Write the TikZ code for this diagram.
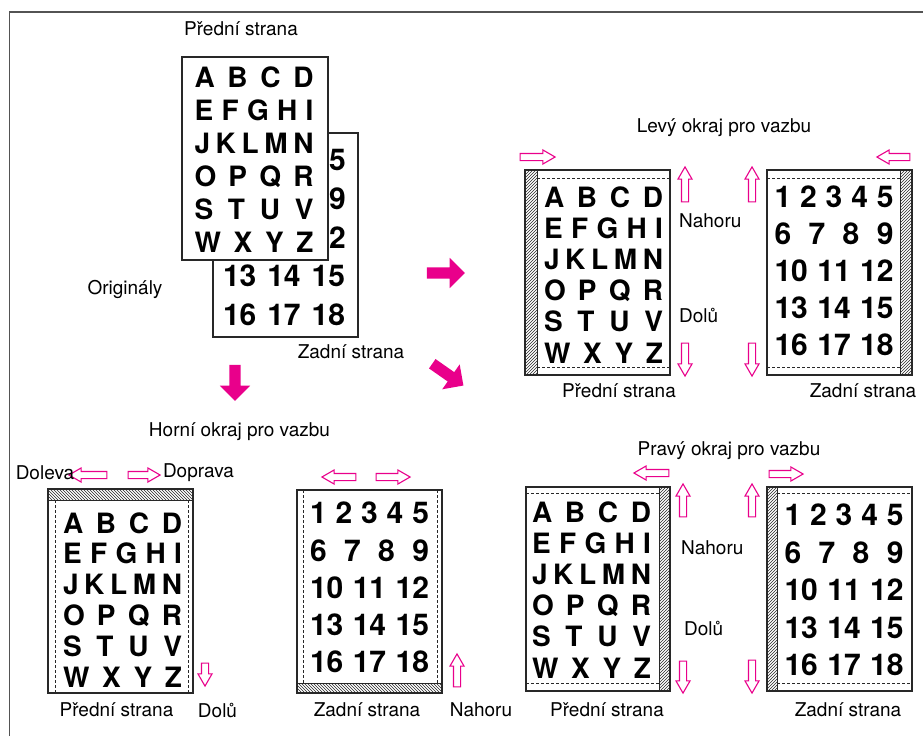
\documentclass[tikz,border=0pt]{standalone}
\usepackage{fontspec}
\setmainfont{TeX Gyre Heros}
\usetikzlibrary{shapes.arrows,patterns}

\definecolor{pinkarrow}{RGB}{233,0,139}
\definecolor{pageline}{RGB}{40,40,40}

\tikzset{
  txt/.style={font=\fontsize{19}{19}\selectfont, inner sep=0pt},
  letters/.style={font=\bfseries\fontsize{28}{28}\selectfont, inner sep=0pt, text height=20pt, text depth=0pt},
  numbers/.style={font=\bfseries\fontsize{30}{30}\selectfont, inner sep=0pt, text height=21.5pt, text depth=0pt},
  pagebox/.style={draw=pageline, line width=1.4pt, fill=white},
  margin/.style={draw=pageline, line width=0.6pt, dash pattern=on 3pt off 2pt},
  hatchv/.style={draw=pageline, line width=1pt, pattern=north east lines, pattern color=pageline},
  hatchh/.style={draw=pageline, line width=1pt, pattern=north west lines, pattern color=pageline},
  harrow/.style={single arrow, draw=pinkarrow, line width=1.1pt, fill=white,
    inner xsep=0pt, inner ysep=3pt, single arrow head extend=3.5pt, single arrow tip angle=60},
  barrow/.style={single arrow, fill=pinkarrow,
    inner xsep=0pt, inner ysep=5.5pt, single arrow head extend=9.5pt, single arrow tip angle=90},
}

% rows of a page: name prefix, centre x, first row y, row step
\newcommand{\letterrows}[4]{%
  \foreach \row [count=\i] in {A B C D,E F G H I,J K L M N,O P Q R,S T U V,W X Y Z}
    \node[letters] (#1\i) at (#2,{#3+(\i-1)*#4}) {\makebox[119pt][s]{\row}};}
\newcommand{\numberrows}[4]{%
  \foreach \row [count=\i] in {1 2 3 4 5,6 7 8 9,10 11 12,13 14 15,16 17 18}
    \node[numbers] (#1\i) at (#2,{#3+(\i-1)*#4}) {\makebox[119pt][s]{\row}};}

\begin{document}
\begin{tikzpicture}[x=1pt, y=-1pt]
  \useasboundingbox (0,0) rectangle (923,736);

  % ramecek
  \draw[pageline!80, line width=1.5pt] (9.5,736) -- (9.5,12) -- (923,12);

  % originaly
  \draw[pagebox] (213,133) rectangle (358,337);
  \node[numbers, anchor=east] (ob1) at (346,160) {5};
  \node[numbers, anchor=east] (ob2) at (346,198.5) {9};
  \node[numbers, anchor=east] (ob3) at (346,237.5) {2};
  \node[numbers] (ob4) at (284,276) {\makebox[122pt][s]{13 14 15}};
  \node[numbers] (ob5) at (284,315) {\makebox[122pt][s]{16 17 18}};
  \draw[pagebox] (182,57) rectangle (328,260);
  \letterrows{of}{254}{77}{33}
  \node[txt] (o-front) at (241,29) {Přední strana};
  \node[txt] (o-name)  at (125,289) {Originály};
  \node[txt] (o-back)  at (351,352) {Zadní strana};

  % velke sipky
  \node[barrow, minimum height=38pt] (go-r) at (443,273) {};
  \node[barrow, minimum height=38pt, rotate=-35] (go-dr) at (445.5,373) {};
  \node[barrow, minimum height=36pt, rotate=-90] (go-d) at (235,380) {};

  % levy okraj pro vazbu
  \node[txt] (l-title) at (724,128) {Levý okraj pro vazbu};
  \draw[pagebox] (525,170) rectangle (670,375);
  \draw[hatchv] (525,170) rectangle (537,375);
  \draw[margin] (537,178) -- (670,178) (537,367) -- (670,367);
  \letterrows{lf}{603.5}{197}{31.2}
  \draw[pagebox] (767,170) rectangle (912,375);
  \draw[hatchv] (900,170) rectangle (912,375);
  \draw[margin] (767,178) -- (900,178) (767,367) -- (900,367);
  \numberrows{lb}{834}{197}{37}
  \node[harrow, minimum height=35pt] (l-a1) at (534.5,157) {};
  \node[harrow, minimum height=35pt, rotate=90] (l-a2) at (685,187.5) {};
  \node[harrow, minimum height=33pt, rotate=-90] (l-a3) at (685,356.5) {};
  \node[harrow, minimum height=33pt, rotate=180] (l-a4) at (896.5,157) {};
  \node[harrow, minimum height=35pt, rotate=90] (l-a5) at (752,187.5) {};
  \node[harrow, minimum height=33pt, rotate=-90] (l-a6) at (752,356.5) {};
  \node[txt, anchor=west] (l-up) at (679,221) {Nahoru};
  \node[txt, anchor=west] (l-down) at (679,316) {Dolů};
  \node[txt] (l-front) at (619,391) {Přední strana};
  \node[txt] (l-back) at (863,391) {Zadní strana};

  % horni okraj pro vazbu
  \node[txt] (h-title) at (239.5,432) {Horní okraj pro vazbu};
  \draw[pagebox] (48,489) rectangle (193,693);
  \draw[hatchh] (48,489) rectangle (193,500);
  \draw[margin] (55,500) -- (55,693) (188,500) -- (188,693);
  \letterrows{hf}{122.5}{523}{30.8}
  \draw[pagebox] (297,490) rectangle (442,693);
  \draw[hatchh] (297,683) rectangle (442,693);
  \draw[margin] (303,490) -- (303,683) (437,490) -- (437,683);
  \numberrows{hb}{369.5}{513}{37.25}
  \node[harrow, minimum height=38pt, rotate=180] (h-a1) at (91,475) {};
  \node[harrow, minimum height=32pt] (h-a2) at (141,475) {};
  \node[harrow, minimum height=23pt, rotate=-90] (h-a3) at (205,671.5) {};
  \node[harrow, minimum height=34pt, rotate=180] (h-a4) at (342,477) {};
  \node[harrow, minimum height=34pt] (h-a5) at (390,477) {};
  \node[harrow, minimum height=33pt, rotate=90] (h-a6) at (457,673.5) {};
  \node[txt] (h-left) at (45,473) {Doleva};
  \node[txt] (h-right) at (198.5,473) {Doprava};
  \node[txt] (h-front) at (116.5,710) {Přední strana};
  \node[txt] (h-down) at (217.5,710) {Dolů};
  \node[txt] (h-back) at (367,710) {Zadní strana};
  \node[txt] (h-up) at (481,710) {Nahoru};

  % pravy okraj pro vazbu
  \node[txt] (p-title) at (729,451) {Pravý okraj pro vazbu};
  \draw[pagebox] (526,487) rectangle (670,691);
  \draw[hatchv] (659,487) rectangle (670,691);
  \draw[margin] (526,493) -- (659,493) (526,683) -- (659,683);
  \letterrows{pf}{591.5}{512}{31.2}
  \draw[pagebox] (767,487) rectangle (912,691);
  \draw[hatchv] (767,487) rectangle (777,691);
  \draw[margin] (777,493) -- (912,493) (777,683) -- (912,683);
  \numberrows{pb}{844}{515}{37.5}
  \node[harrow, minimum height=35pt, rotate=180] (p-a1) at (654.5,473) {};
  \node[harrow, minimum height=33pt, rotate=90] (p-a2) at (683,503.5) {};
  \node[harrow, minimum height=32pt, rotate=-90] (p-a3) at (683,674) {};
  \node[harrow, minimum height=34pt] (p-a4) at (783,474) {};
  \node[harrow, minimum height=33pt, rotate=90] (p-a5) at (752,503.5) {};
  \node[harrow, minimum height=33pt, rotate=-90] (p-a6) at (752,673.5) {};
  \node[txt, anchor=west] (p-up) at (681,548) {Nahoru};
  \node[txt, anchor=west] (p-down) at (684,628) {Dolů};
  \node[txt] (p-front) at (607,710) {Přední strana};
  \node[txt] (p-back) at (848,710) {Zadní strana};
\end{tikzpicture}
\end{document}
